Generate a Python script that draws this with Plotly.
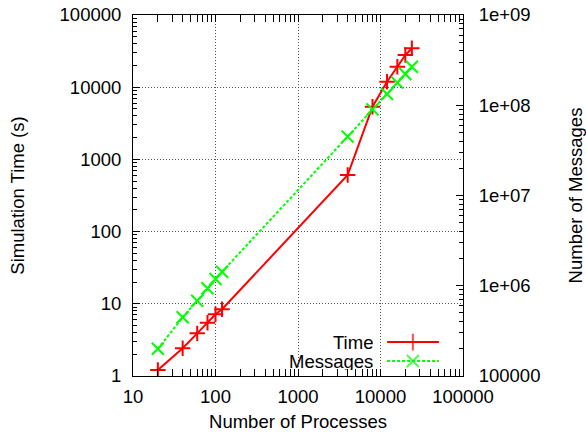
import plotly.graph_objects as go

processes = [20, 40, 60, 80, 100, 120, 4000, 8000, 12000, 16000, 20000, 24000]
sim_time = [1.21, 2.42, 3.9, 5.47, 7.16, 8.4, 608, 5370, 11900, 19200, 27900, 34600]
messages = [2.0e5, 4.47e5, 6.82e5, 9.37e5, 1.19e6, 1.43e6, 4.49e7, 9.0e7, 1.33e8, 1.78e8, 2.22e8, 2.67e8]

x_ticks = [10, 100, 1000, 10000, 100000]
x_labels = ["10", "100", "1000", "10000", "100000"]
y_ticks = [1, 10, 100, 1000, 10000, 100000]
y_labels = ["1", "10", "100", "1000", "10000", "100000"]
y2_ticks = [1e5, 1e6, 1e7, 1e8, 1e9]
y2_labels = ["100000", "1e+06", "1e+07", "1e+08", "1e+09"]

RED = "#ff0000"
GREEN = "#00ff00"
FONT = dict(family="Liberation Sans, Arial, sans-serif", size=18.5, color="black")


def minor_vals(lo_exp, hi_exp):
    return [m * 10 ** e for e in range(lo_exp, hi_exp) for m in range(2, 10)]


fig = go.Figure()
fig.add_trace(go.Scatter(
    x=processes, y=sim_time, name="Time", mode="lines+markers",
    line=dict(color=RED, width=2),
    marker=dict(symbol="cross-thin", size=11, line=dict(color=RED, width=2)),
    xaxis="x", yaxis="y", showlegend=False))
fig.add_trace(go.Scatter(
    x=processes, y=messages, name="Messages", mode="lines+markers",
    line=dict(color=GREEN, width=2, dash="3px,2px"),
    marker=dict(symbol="x-thin", size=12, line=dict(color=GREEN, width=2)),
    xaxis="x", yaxis="y2", showlegend=False))

# legend samples (gnuplot-style key: text, then line sample)
legend_names = ["Time", "Messages"]
legend_y = [0.094, 0.0416]
fig.add_trace(go.Scatter(
    x=[0.770, 0.848, 0.927], y=[legend_y[0]] * 3, mode="lines+markers",
    line=dict(color=RED, width=2),
    marker=dict(symbol="cross-thin", size=[0, 12, 0], line=dict(color=RED, width=2)),
    xaxis="x3", yaxis="y3", showlegend=False, hoverinfo="skip"))
fig.add_trace(go.Scatter(
    x=[0.770, 0.848, 0.927], y=[legend_y[1]] * 3, mode="lines+markers",
    line=dict(color=GREEN, width=2, dash="3px,2px"),
    marker=dict(symbol="x-thin", size=[0, 12, 0], line=dict(color=GREEN, width=2)),
    xaxis="x3", yaxis="y3", showlegend=False, hoverinfo="skip"))
for name, yy in zip(legend_names, legend_y):
    fig.add_annotation(x=0.733, y=yy, xref="paper", yref="paper", text=name, height=18,
                       showarrow=False, xanchor="right", yanchor="middle", font=FONT)

# opaque key area blanks the grid
fig.add_shape(type="rect", xref="paper", yref="paper", x0=0.476, x1=1.0, y0=0.0, y1=0.127,
              fillcolor="white", line=dict(width=0), layer="between")

grid = dict(showgrid=True, gridcolor="#555555", gridwidth=1, griddash="1px,2px")

fig.update_layout(
    width=586, height=437,
    margin=dict(l=133, r=123, t=15, b=61, autoexpand=False),
    paper_bgcolor="white", plot_bgcolor="white",
    font=FONT,
    xaxis=dict(type="log", range=[1, 5], tickmode="array", tickvals=x_ticks, ticktext=x_labels,
               ticks="inside", ticklen=7, tickcolor="black", showline=True, linecolor="black",
               linewidth=1, mirror="allticks", zeroline=False, automargin=False,
               ticklabelstandoff=4,
               minor=dict(tickmode="array", tickvals=minor_vals(1, 5), ticks="inside", ticklen=4,
                          tickcolor="black", showgrid=False),
               title=dict(text="Number of Processes", font=FONT, standoff=8), **grid),
    yaxis=dict(type="log", range=[0, 5], tickmode="array", tickvals=y_ticks, ticktext=y_labels,
               ticks="inside", ticklen=7, tickcolor="black", showline=True, linecolor="black",
               linewidth=1, zeroline=False, automargin=False, ticklabelstandoff=7,
               minor=dict(tickmode="array", tickvals=minor_vals(0, 5), ticks="inside", ticklen=4,
                          tickcolor="black", showgrid=False),
               title=dict(text="Simulation Time (s)", font=FONT, standoff=30), **grid),
    yaxis2=dict(type="log", range=[5, 9], overlaying="y", side="right", tickmode="array",
                tickvals=y2_ticks, ticktext=y2_labels, ticks="inside", ticklen=7, tickcolor="black",
                showline=True, linecolor="black", linewidth=1, showgrid=False, zeroline=False,
                automargin=False, ticklabelstandoff=11,
                minor=dict(tickmode="array", tickvals=minor_vals(5, 9), ticks="inside", ticklen=4,
                           tickcolor="black", showgrid=False),
                title=dict(text="Number of Messages", font=FONT, standoff=30)),
    xaxis3=dict(overlaying="x", range=[0, 1], visible=False, fixedrange=True),
    yaxis3=dict(overlaying="y", range=[0, 1], visible=False, fixedrange=True),
)

fig.write_html("out.html", config={"displayModeBar": False},
               post_script="document.body.style.margin='0';document.body.style.overflow='hidden';")
